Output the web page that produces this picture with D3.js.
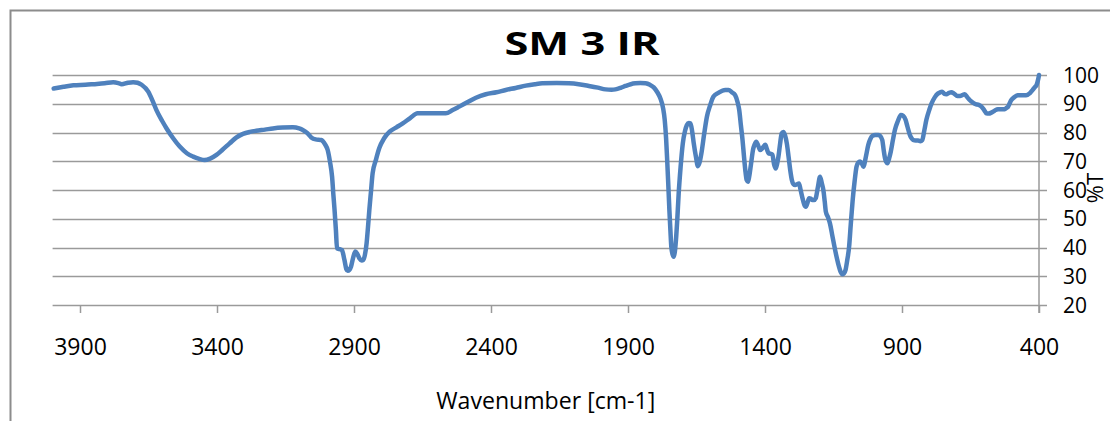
<!DOCTYPE html>
<html>
<head>
<meta charset="utf-8">
<script src="https://cdn.jsdelivr.net/npm/d3@7"></script>
<style>
  body { margin: 0; background: #fff; }
  text { font-family: "Open Sans", "Noto Sans", sans-serif; fill: #000; }
</style>
</head>
<body>
<div id="canvas"></div>
<script>
/* DATA */
const wavenumber = [
  3996, 3960, 3924, 3880, 3851, 3810, 3779, 3760, 3748, 3725, 3706, 3690, 3675, 3651, 3635, 3621,
  3600, 3584, 3560, 3536, 3510, 3487, 3465, 3445, 3425, 3402, 3380, 3354, 3330, 3305, 3280, 3257,
  3225, 3196, 3160, 3123, 3100, 3087, 3070, 3056, 3040, 3020, 3005, 2996, 2988, 2980, 2975, 2971,
  2966, 2962, 2952, 2944, 2935, 2928, 2923, 2917, 2911, 2903, 2895, 2888, 2880, 2872, 2866, 2860,
  2854, 2849, 2844, 2838, 2832, 2820, 2808, 2790, 2770, 2745, 2722, 2695, 2668, 2620, 2565, 2540,
  2516, 2485, 2455, 2419, 2380, 2346, 2310, 2273, 2240, 2213, 2160, 2116, 2080, 2043, 2010, 1982,
  1960, 1946, 1925, 1909, 1890, 1873, 1855, 1836, 1820, 1806, 1793, 1782, 1772, 1766, 1761, 1757,
  1753, 1749, 1745, 1742, 1737, 1733, 1729, 1725, 1720, 1715, 1708, 1700, 1692, 1685, 1678, 1672,
  1666, 1660, 1652, 1645, 1639, 1632, 1622, 1612, 1600, 1588, 1570, 1545, 1533, 1521, 1509, 1500,
  1494, 1488, 1482, 1477, 1472, 1467, 1462, 1458, 1454, 1449, 1444, 1438, 1432, 1425, 1418, 1410,
  1399, 1393, 1387, 1380, 1373, 1367, 1361, 1356, 1351, 1345, 1339, 1333, 1327, 1320, 1314, 1308,
  1302, 1296, 1290, 1283, 1276, 1270, 1263, 1257, 1251, 1245, 1239, 1233, 1227, 1221, 1215, 1207,
  1199, 1193, 1187, 1182, 1178, 1170, 1163, 1155, 1144, 1137, 1130, 1124, 1118, 1112, 1106, 1100,
  1093, 1087, 1080, 1073, 1066, 1060, 1053, 1047, 1041, 1032, 1023, 1015, 1008, 998, 987, 980,
  972, 967, 962, 958, 953, 947, 941, 933, 926, 915, 904, 896, 887, 880, 871, 865,
  859, 850, 841, 833, 826, 818, 811, 800, 792, 780, 768, 760, 754, 746, 738, 728,
  720, 710, 698, 688, 680, 671, 662, 653, 640, 629, 620, 610, 600, 592, 583, 574,
  562, 550, 537, 525, 519, 513, 507, 501, 490, 477, 462, 447, 432, 423, 415, 409,
  403, 400
];
const transmittance = [
  95.3, 95.9, 96.4, 96.6, 96.8, 97.1, 97.5, 97.2, 96.8, 97.3, 97.5, 97.3, 96.6, 94.2, 91.0, 87.8,
  84.0, 81.4, 78.0, 75.1, 72.8, 71.6, 70.8, 70.4, 70.9, 72.2, 74.0, 76.2, 78.2, 79.5, 80.2, 80.6,
  81.0, 81.4, 81.7, 81.8, 81.4, 80.9, 79.8, 78.3, 77.6, 77.4, 75.8, 73.9, 70.0, 64.6, 58.0, 53.1,
  46.0, 39.7, 39.4, 39.1, 35.7, 32.5, 31.9, 32.2, 33.3, 36.5, 38.6, 37.8, 36.2, 35.5, 35.7, 37.5,
  41.5, 47.0, 53.1, 59.5, 65.8, 70.5, 74.5, 78.0, 80.3, 81.8, 83.2, 85.0, 86.7, 86.7, 86.7, 87.8,
  89.0, 90.6, 92.1, 93.3, 94.0, 94.8, 95.5, 96.3, 96.8, 97.1, 97.2, 97.1, 96.8, 96.2, 95.6, 95.0,
  94.9, 95.0, 95.6, 96.2, 96.8, 97.1, 97.2, 97.1, 96.6, 95.7, 94.0, 91.9, 88.5, 84.4, 78.0, 70.4,
  62.0, 53.1, 45.5, 40.3, 37.5, 36.8, 38.5, 42.6, 50.0, 58.8, 68.0, 76.2, 80.5, 82.6, 83.3, 83.2,
  80.5, 76.2, 71.5, 68.3, 69.5, 72.8, 79.5, 85.5, 89.5, 92.5, 93.8, 94.8, 94.8, 94.0, 93.0, 90.5,
  87.8, 82.5, 77.4, 72.0, 67.0, 63.5, 62.9, 64.5, 67.0, 70.5, 73.9, 75.8, 76.8, 75.5, 73.9, 74.5,
  75.7, 74.2, 72.8, 72.6, 72.3, 69.0, 67.5, 69.0, 71.6, 76.0, 79.7, 80.2, 79.1, 76.0, 71.6, 67.0,
  63.5, 62.0, 61.7, 62.0, 62.3, 60.0, 57.1, 55.0, 54.2, 55.5, 57.1, 57.0, 56.5, 56.5, 57.1, 61.0,
  64.6, 62.5, 60.0, 56.0, 52.5, 50.5, 48.4, 44.5, 39.1, 36.0, 33.3, 31.5, 30.7, 31.0, 32.2, 35.5,
  40.3, 48.0, 56.5, 63.0, 68.1, 69.5, 69.9, 69.3, 68.1, 71.5, 75.7, 77.8, 78.8, 79.1, 79.1, 78.8,
  77.4, 74.0, 71.0, 69.8, 69.3, 71.0, 73.3, 77.5, 80.9, 84.0, 86.1, 85.8, 84.4, 82.0, 79.1, 78.0,
  77.4, 77.2, 77.2, 77.0, 77.4, 81.0, 84.4, 88.0, 90.1, 92.3, 93.6, 94.0, 94.2, 93.5, 93.3, 93.8,
  94.0, 93.5, 92.7, 92.7, 93.0, 93.3, 92.3, 91.3, 90.3, 89.8, 89.6, 89.0, 87.8, 86.7, 86.6, 86.9,
  87.6, 88.1, 88.1, 88.1, 88.5, 89.0, 90.2, 91.3, 92.3, 93.0, 93.0, 93.0, 93.8, 94.8, 95.8, 96.5,
  98.5, 100
];
const xTicks = [3900, 3400, 2900, 2400, 1900, 1400, 900, 400];
const yTicks = [20, 30, 40, 50, 60, 70, 80, 90, 100];
const chartTitle = 'SM 3 IR';
const xTitle = 'Wavenumber [cm-1]';
const yTitle = '%T';

/* LAYOUT */
const width = 1110,
  height = 421;
const plot = { left: 52.6, right: 1039, top: 75, bottom: 305 };
const gridColor = '#9a9a9a';

const svg = d3.select('#canvas')
  .append('svg')
    .attr('width', width)
    .attr('height', height);

// chart area border (only top and left edges fall inside the window)
svg.append('rect')
  .attr('x', 10.5)
  .attr('y', 10.5)
  .attr('width', 1300)
  .attr('height', 600)
  .attr('fill', '#fff')
  .attr('stroke', '#8c8c8c')
  .attr('stroke-width', 2);

const x = d3.scaleLinear()
  .domain([4000, 400])
  .range([plot.left, plot.right]);
const y = d3.scaleLinear()
  .domain([20, 100])
  .range([plot.bottom, plot.top]);

// horizontal gridlines, running past the right axis as its ticks
svg.append('g')
  .selectAll('line')
  .data(yTicks)
  .join('line')
    .attr('x1', plot.left)
    .attr('x2', plot.right + 8)
    .attr('y1', d => Math.round(y(d)) + 0.5)
    .attr('y2', d => Math.round(y(d)) + 0.5)
    .attr('stroke', gridColor)
    .attr('stroke-width', 1.5);

// x axis ticks + labels
const xAxis = svg.append('g')
  .attr('transform', `translate(0,${plot.bottom})`)
  .call(d3.axisBottom(x).tickValues(xTicks).tickSize(8).tickPadding(26).tickFormat(d3.format('d')));
xAxis.select('.domain').remove();
xAxis.selectAll('.tick line').attr('stroke', gridColor).attr('stroke-width', 1.5);
xAxis.selectAll('.tick text')
  .attr('font-size', 23)
  .attr('font-family', '"Open Sans", sans-serif')
  .attr('fill', '#000');

// y axis on the right (at 400)
const yAxis = svg.append('g')
  .attr('transform', `translate(${plot.right},0)`)
  .call(d3.axisRight(y).tickValues(yTicks).tickSize(0).tickPadding(24));
yAxis.select('.domain').remove();
yAxis.selectAll('.tick text')
  .attr('font-size', 21)
  .attr('dy', '0.34em')
  .attr('font-family', '"Open Sans", sans-serif')
  .attr('fill', '#000');
svg.append('line')
  .attr('x1', plot.right)
  .attr('x2', plot.right)
  .attr('y1', plot.top)
  .attr('y2', plot.bottom + 8)
  .attr('stroke', gridColor)
  .attr('stroke-width', 1.5);

// spectrum
const points = wavenumber.map((w, i) => [w, transmittance[i]]);
const line = d3.line()
  .x(d => x(d[0]))
  .y(d => y(d[1]))
  .curve(d3.curveMonotoneX);
svg.append('path')
  .datum(points)
  .attr('d', line)
  .attr('fill', 'none')
  .attr('stroke', '#4f81bd')
  .attr('stroke-width', 4.5)
  .attr('stroke-linejoin', 'round')
  .attr('stroke-linecap', 'round');

// titles
svg.append('text')
  .attr('x', 582)
  .attr('y', 55)
  .attr('text-anchor', 'middle')
  .attr('font-size', 32)
  .attr('font-weight', 'bold')
  .attr('textLength', 155)
  .attr('lengthAdjust', 'spacingAndGlyphs')
  .text(chartTitle);
svg.append('text')
  .attr('x', (plot.left + plot.right) / 2)
  .attr('y', 409)
  .attr('text-anchor', 'middle')
  .attr('font-size', 24)
  .attr('textLength', 219)
  .attr('lengthAdjust', 'spacingAndGlyphs')
  .text(xTitle);
svg.append('text')
  .attr('transform', 'translate(1103,188) rotate(-90)')
  .attr('text-anchor', 'middle')
  .attr('font-size', 22)
  .text(yTitle);
</script>
</body>
</html>
